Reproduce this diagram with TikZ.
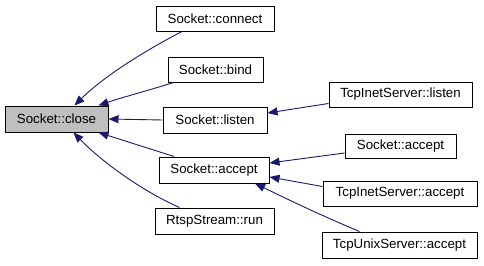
\documentclass[tikz,border=0pt]{standalone}
\usepackage{fontspec}
\setmainfont{Liberation Sans}
\usetikzlibrary{arrows.meta}
\definecolor{edgeblue}{HTML}{191970}
\definecolor{curgray}{HTML}{BFBFBF}

\begin{document}
\begin{tikzpicture}[x=1pt,y=-1pt,
  fn/.style={draw=black,line width=1pt,fill=white,inner sep=0pt,minimum height=25pt,
    font=\fontsize{13.3}{15}\selectfont},
  cur/.style={fn,fill=curgray},
  edge/.style={draw=edgeblue,line width=0.9pt,-{Triangle[length=10pt,width=8pt]}}]
\useasboundingbox (0,0) rectangle (484,265);
\node[cur,minimum width=103pt,minimum height=26pt] (close) at (56.5,119) {Socket::close};
\node[fn,minimum width=118pt] (connect) at (215,18.5) {Socket::connect};
\node[fn,minimum width=95pt] (bind) at (215.5,69.5) {Socket::bind};
\node[fn,minimum width=104pt,minimum height=26pt] (listen) at (215,120) {Socket::listen};
\node[fn,minimum width=110pt,minimum height=26pt] (accept) at (214,170) {Socket::accept};
\node[fn,minimum width=119pt,minimum height=26pt] (run) at (214.5,221) {RtspStream::run};
\node[fn,minimum width=143pt] (tlisten) at (400.5,94.5) {TcpInetServer::listen};
\node[fn,minimum width=111pt,minimum height=24pt] (saccept) at (400.5,146) {Socket::accept};
\node[fn,minimum width=154pt] (taccept) at (400,193.5) {TcpInetServer::accept};
\node[fn,minimum width=155pt,minimum height=26pt] (uaccept) at (399.5,245) {TcpUnixServer::accept};
\draw[edge] ([xshift=-33pt]connect.south) .. controls (150,48) and (105,75) .. ([xshift=18pt]close.north);
\draw[edge] ([xshift=-42pt]bind.south) .. controls (150,90) and (120,98) .. ([xshift=42pt]close.north);
\draw[edge] (listen.west) -- (close.east);
\draw[edge] ([xshift=-40pt]accept.north) -- ([xshift=42pt]close.south);
\draw[edge] ([xshift=-35pt]run.north) .. controls (140,190) and (100,160) .. ([xshift=17pt]close.south);
\draw[edge] ([yshift=-9pt]tlisten.west) -- ([yshift=7pt]listen.east);
\draw[edge] ([yshift=-7pt]saccept.west) -- ([yshift=7pt]accept.east);
\draw[edge] ([yshift=7pt]taccept.west) -- ([yshift=-7pt]accept.east);
\draw[edge] ([xshift=-40pt]uaccept.north) .. controls (320,215) and (285,198) .. ([xshift=41pt]accept.south);
\end{tikzpicture}
\end{document}
